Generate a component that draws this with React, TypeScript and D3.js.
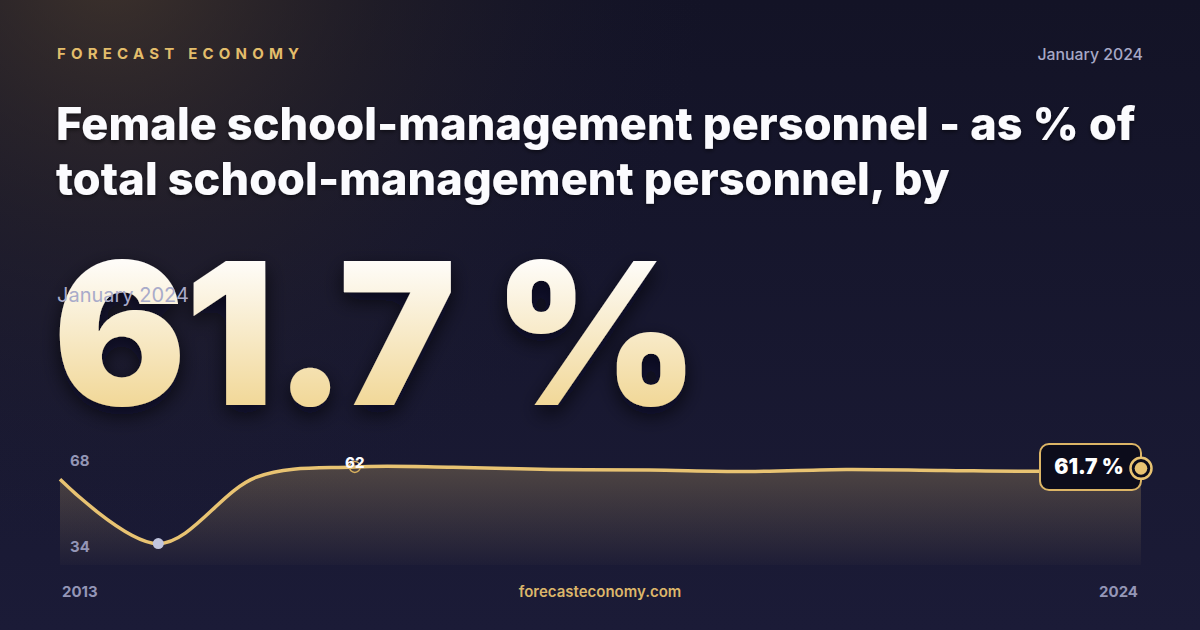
import React from 'react';
import * as d3 from 'd3';

// Series values
const years = [2013, 2014, 2015, 2016, 2017, 2018, 2019, 2020, 2021, 2022, 2023, 2024];
const values = [58.6, 40.4, 59.2, 62.1, 62.0, 61.4, 61.2, 60.8, 61.4, 61.1, 60.9, 61.7];

// Texts
const brand = 'FORECAST ECONOMY';
const dateLabel = 'January 2024';
const titleLines = [
  'Female school-management personnel - as % of',
  'total school-management personnel, by',
];
const headline = '61.7 %';
const lastLabel = '61.7 %';
const site = 'forecasteconomy.com';

const W = 1200;
const H = 630;
const FONT = 'Inter, "Noto Sans", "DejaVu Sans", sans-serif';
const GOLD = '#e8c372';

export default function App() {
  const chart = { left: 60, right: 1141, top: 445, bottom: 565 };

  const x = d3
    .scaleLinear()
    .domain([0, years.length - 1])
    .range([chart.left, chart.right]);

  const minV = d3.min(values) as number;
  const maxV = d3.max(values) as number;
  const y = d3
    .scaleLinear()
    .domain([minV * 0.85, maxV * 1.1])
    .range([chart.bottom, chart.top]);

  const curve = d3.curveCatmullRom.alpha(0.5);

  const line = d3
    .line<number>()
    .x((_, i) => x(i))
    .y((d) => y(d))
    .curve(curve);

  const area = d3
    .area<number>()
    .x((_, i) => x(i))
    .y0(chart.bottom)
    .y1((d) => y(d))
    .curve(curve);

  const iMin = values.indexOf(minV);
  const iMax = values.indexOf(maxV);
  const iLast = values.length - 1;

  return (
    <svg
      width={W}
      height={H}
      viewBox={`0 0 ${W} ${H}`}
      style={{ position: 'fixed', left: 0, top: 0, display: 'block' }}
      fontFamily={FONT}
    >
      <defs>
        <linearGradient id="bg" x1="0" y1="0" x2="0" y2="1">
          <stop offset="0%" stopColor="#131326" />
          <stop offset="100%" stopColor="#1b1b37" />
        </linearGradient>
        <radialGradient id="glow" gradientUnits="userSpaceOnUse" cx="110" cy="-40" r="600">
          <stop offset="0%" stopColor="#5a4730" stopOpacity="0.6" />
          <stop offset="45%" stopColor="#3a3028" stopOpacity="0.3" />
          <stop offset="100%" stopColor="#1a1a30" stopOpacity="0" />
        </radialGradient>
        <linearGradient id="numFill" gradientUnits="userSpaceOnUse" x1="0" y1="262" x2="0" y2="408">
          <stop offset="0%" stopColor="#fefcf8" />
          <stop offset="100%" stopColor="#f1d796" />
        </linearGradient>
        <linearGradient id="areaFill" gradientUnits="userSpaceOnUse" x1="0" y1={chart.top + 20} x2="0" y2={chart.bottom}>
          <stop offset="0%" stopColor={GOLD} stopOpacity="0.26" />
          <stop offset="100%" stopColor={GOLD} stopOpacity="0.02" />
        </linearGradient>
        <filter id="bigShadow" x="-10%" y="-20%" width="120%" height="150%">
          <feDropShadow dx="0" dy="8" stdDeviation="10" floodColor="#05050c" floodOpacity="0.7" />
        </filter>
        <filter id="titleShadow" x="-5%" y="-20%" width="110%" height="150%">
          <feDropShadow dx="0" dy="2" stdDeviation="2" floodColor="#000" floodOpacity="0.5" />
        </filter>
      </defs>

      {/* Background */}
      <rect width={W} height={H} fill="url(#bg)" />
      <rect width={W} height={H} fill="url(#glow)" />

      {/* Header */}
      <text x={57} y={59} fill="#e3bd6b" fontSize={15} fontWeight={700} letterSpacing={5.2}>
        {brand}
      </text>
      <text x={1143} y={60} fill="#a6a8c6" fontSize={15.8} fontWeight={500} textAnchor="end">
        {dateLabel}
      </text>

      {/* Title */}
      <g filter="url(#titleShadow)">
        {titleLines.map((t, i) => (
          <text key={i} x={56} y={140 + i * 55} fill="#fbfbfe" fontSize={45} fontWeight={800} letterSpacing={0.1}>
            {t}
          </text>
        ))}
      </g>

      {/* Headline value */}
      <text
        x={53}
        y={405}
        fill="url(#numFill)"
        fontSize={198}
        fontWeight={900}
        letterSpacing={-1.5}
        filter="url(#bigShadow)"
      >
        {headline}
      </text>
      <text x={57} y={302} fill="#a9abca" fontSize={20} fontWeight={400}>
        {dateLabel}
      </text>

      {/* Sparkline */}
      <path d={area(values) as string} fill="url(#areaFill)" />
      <path d={line(values) as string} fill="none" stroke={GOLD} strokeWidth={3.5} strokeLinejoin="round" />

      <text x={70} y={466} fill="#9496b6" fontSize={15} fontWeight={700}>
        {Math.round(maxV * 1.1)}
      </text>
      <text x={70} y={552} fill="#9496b6" fontSize={15} fontWeight={700}>
        {Math.round(minV * 0.85)}
      </text>

      {/* Min point */}
      <circle cx={x(iMin)} cy={y(minV)} r={5.5} fill="#c2c6de" />

      {/* Max point */}
      <circle cx={x(iMax)} cy={y(maxV)} r={5.5} fill="none" stroke="#d9b15e" strokeWidth={1.5} />
      <text x={x(iMax)} y={y(maxV) + 1} fill="#fbfbfe" fontSize={15} fontWeight={800} textAnchor="middle">
        {Math.round(maxV)}
      </text>

      {/* Last value badge */}
      <rect x={1040} y={444} width={101} height={46} rx={9} fill="#0c0c1b" stroke="#dcb566" strokeWidth={2} />
      <text x={1089} y={474} fill="#ffffff" fontSize={21} fontWeight={900} textAnchor="middle">
        {lastLabel}
      </text>
      <circle cx={x(iLast)} cy={y(values[iLast])} r={10.5} fill="#0c0c1b" stroke={GOLD} strokeWidth={2.5} />
      <circle cx={x(iLast)} cy={y(values[iLast])} r={6.3} fill={GOLD} />

      {/* Footer */}
      <text x={62} y={597} fill="#9496b6" fontSize={15} fontWeight={700}>
        {years[0]}
      </text>
      <text x={600} y={597} fill="#dcb66a" fontSize={15} fontWeight={600} textAnchor="middle">
        {site}
      </text>
      <text x={1138} y={597} fill="#9496b6" fontSize={15} fontWeight={700} textAnchor="end">
        {years[years.length - 1]}
      </text>
    </svg>
  );
}
